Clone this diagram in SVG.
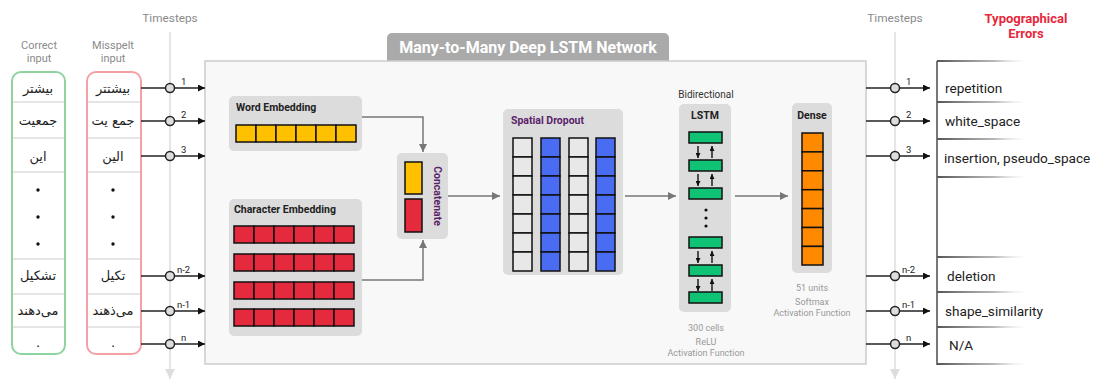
<svg xmlns="http://www.w3.org/2000/svg" width="1093" height="381" viewBox="0 0 1093 381">
<defs>
<style>
.lbl{font-family:Roboto,"Liberation Sans",sans-serif;}
.gray{fill:#8a8a8a;font-size:11px;}
.big{font-size:11.8px;}
.fa{font-family:"DejaVu Sans","Noto Sans",sans-serif;font-size:13px;fill:#222;text-anchor:middle;}
.dot{fill:#111;}
.ts{stroke:#222;stroke-width:1.6;fill:none;}
.tc{fill:#ddd;stroke:#222;stroke-width:1.5;}
.tn{font-family:Roboto,"Liberation Sans",sans-serif;font-size:9.5px;fill:#222;}
.panel{fill:#dcdcdc;}
.ttl{font-family:Roboto,"Liberation Sans",sans-serif;font-size:10.5px;font-weight:bold;fill:#222;}
.purple{fill:#5b1f6b;}
.cell{stroke:#111;stroke-width:1.5;}
.y{fill:#ffc000;}
.r{fill:#e62a3e;}
.b{fill:#4a6cf2;}
.lg{fill:#e8e8e8;}
.g{fill:#10c274;}
.o{fill:#ff8a00;}
.conn{stroke:#777;stroke-width:1.5;fill:none;}
.out{font-family:Roboto,"Liberation Sans",sans-serif;font-size:13.6px;fill:#222;}
.note{font-family:Roboto,"Liberation Sans",sans-serif;font-size:9px;fill:#999;text-anchor:middle;}
</style>
<marker id="ab" viewBox="0 0 10 10" refX="10" refY="5" markerWidth="10" markerHeight="7" markerUnits="userSpaceOnUse" orient="auto"><path d="M0,0 L10,5 L0,10 z" fill="#111"/></marker>
<marker id="ag" viewBox="0 0 10 10" refX="10" refY="5" markerWidth="10" markerHeight="8" markerUnits="userSpaceOnUse" orient="auto"><path d="M0,0 L10,5 L0,10 z" fill="#777"/></marker>
<marker id="al" viewBox="0 0 10 10" refX="10" refY="5" markerWidth="12" markerHeight="10" markerUnits="userSpaceOnUse" orient="auto"><path d="M0,0 L10,5 L0,10 z" fill="#ddd"/></marker>
<marker id="as" viewBox="0 0 10 10" refX="10" refY="5" markerWidth="5" markerHeight="5" markerUnits="userSpaceOnUse" orient="auto"><path d="M0,0 L10,5 L0,10 z" fill="#111"/></marker>
<linearGradient id="fade" gradientUnits="userSpaceOnUse" x1="937" y1="0" x2="1032" y2="0"><stop offset="0" stop-color="#555"/><stop offset="0.6" stop-color="#888" stop-opacity="0.6"/><stop offset="1" stop-color="#fff" stop-opacity="0"/></linearGradient>
</defs>
<rect width="1093" height="381" fill="#fff"/>

<!-- timestep axes -->
<g id="timesteps-left">
<text class="lbl gray big" x="170" y="22" text-anchor="middle">Timesteps</text>
<line x1="170" y1="32" x2="170" y2="379" stroke="#ddd" stroke-width="1.5" marker-end="url(#al)"/>
</g>
<g id="timesteps-right">
<text class="lbl gray big" x="895" y="22" text-anchor="middle">Timesteps</text>
<line x1="895" y1="32" x2="895" y2="379" stroke="#ddd" stroke-width="1.5" marker-end="url(#al)"/>
</g>

<!-- correct input -->
<g id="correct-input">
<text class="lbl gray" x="39" y="49" text-anchor="middle">Correct</text>
<text class="lbl gray" x="39" y="62" text-anchor="middle">input</text>
<rect x="12" y="72" width="53" height="282" rx="9" fill="#fff" stroke="#8fd3a0" stroke-width="2"/>
<g stroke="#ccc" stroke-width="1.2">
<line x1="13" y1="102" x2="64" y2="102"/><line x1="13" y1="138" x2="64" y2="138"/><line x1="13" y1="172" x2="64" y2="172"/>
<line x1="13" y1="259" x2="64" y2="259"/><line x1="13" y1="294" x2="64" y2="294"/><line x1="13" y1="327" x2="64" y2="327"/>
</g>
<text class="fa" x="38" y="93">بیشتر</text>
<text class="fa" x="38" y="125">جمعیت</text>
<text class="fa" x="38" y="161">این</text>
<circle class="dot" cx="38" cy="190" r="1.7"/><circle class="dot" cx="38" cy="217" r="1.7"/><circle class="dot" cx="38" cy="244" r="1.7"/>
<text class="fa" x="38" y="280">تشکیل</text>
<text class="fa" x="38" y="315">می‌دهند</text>
<text class="fa" x="38" y="347" font-size="10">.</text>
</g>

<!-- misspelt input -->
<g id="misspelt-input">
<text class="lbl gray" x="113" y="49" text-anchor="middle">Misspelt</text>
<text class="lbl gray" x="113" y="62" text-anchor="middle">input</text>
<rect x="87" y="72" width="54" height="282" rx="9" fill="#fff" stroke="#f4a0a4" stroke-width="2"/>
<g stroke="#ccc" stroke-width="1.2">
<line x1="88" y1="102" x2="140" y2="102"/><line x1="88" y1="138" x2="140" y2="138"/><line x1="88" y1="172" x2="140" y2="172"/>
<line x1="88" y1="259" x2="140" y2="259"/><line x1="88" y1="294" x2="140" y2="294"/><line x1="88" y1="327" x2="140" y2="327"/>
</g>
<text class="fa" x="113" y="93">بیشتتر</text>
<text class="fa" x="113" y="125">جمع یت</text>
<text class="fa" x="113" y="161">الین</text>
<circle class="dot" cx="113" cy="190" r="1.7"/><circle class="dot" cx="113" cy="217" r="1.7"/><circle class="dot" cx="113" cy="244" r="1.7"/>
<text class="fa" x="113" y="280">تکیل</text>
<text class="fa" x="113" y="315">می‌ذهند</text>
<text class="fa" x="113" y="347" font-size="10">.</text>
</g>

<!-- main network box -->
<g id="network">
<rect x="387" y="33" width="282" height="32" rx="5" fill="#aaa"/>
<rect x="205" y="61" width="661" height="303" fill="#f8f8f8" stroke="#ccc" stroke-width="1.5"/>
<text x="528" y="53" text-anchor="middle" font-family="Roboto,'Liberation Sans',sans-serif" font-size="16" font-weight="bold" fill="#fff">Many-to-Many Deep LSTM Network</text>
</g>

<!-- word embedding -->
<g id="word-embedding">
<rect class="panel" x="229" y="96" width="133" height="55" rx="5"/>
<text class="ttl" x="236" y="111">Word Embedding</text>
<rect class="cell y" x="236" y="125" width="20" height="17"/><rect class="cell y" x="256" y="125" width="20" height="17"/><rect class="cell y" x="276" y="125" width="20" height="17"/><rect class="cell y" x="296" y="125" width="20" height="17"/><rect class="cell y" x="316" y="125" width="20" height="17"/><rect class="cell y" x="336" y="125" width="20" height="17"/>
</g>

<!-- character embedding -->
<g id="character-embedding">
<rect class="panel" x="229" y="199" width="133" height="137" rx="5"/>
<text class="ttl" x="234" y="213">Character Embedding</text>
<g id="char-rows">
<rect class="cell r" x="234" y="226" width="20" height="17"/><rect class="cell r" x="254" y="226" width="20" height="17"/><rect class="cell r" x="274" y="226" width="20" height="17"/><rect class="cell r" x="294" y="226" width="20" height="17"/><rect class="cell r" x="314" y="226" width="20" height="17"/><rect class="cell r" x="334" y="226" width="20" height="17"/>
<rect class="cell r" x="234" y="254" width="20" height="17"/><rect class="cell r" x="254" y="254" width="20" height="17"/><rect class="cell r" x="274" y="254" width="20" height="17"/><rect class="cell r" x="294" y="254" width="20" height="17"/><rect class="cell r" x="314" y="254" width="20" height="17"/><rect class="cell r" x="334" y="254" width="20" height="17"/>
<rect class="cell r" x="234" y="282" width="20" height="17"/><rect class="cell r" x="254" y="282" width="20" height="17"/><rect class="cell r" x="274" y="282" width="20" height="17"/><rect class="cell r" x="294" y="282" width="20" height="17"/><rect class="cell r" x="314" y="282" width="20" height="17"/><rect class="cell r" x="334" y="282" width="20" height="17"/>
<rect class="cell r" x="234" y="309" width="20" height="17"/><rect class="cell r" x="254" y="309" width="20" height="17"/><rect class="cell r" x="274" y="309" width="20" height="17"/><rect class="cell r" x="294" y="309" width="20" height="17"/><rect class="cell r" x="314" y="309" width="20" height="17"/><rect class="cell r" x="334" y="309" width="20" height="17"/>
</g>
</g>

<!-- concatenate -->
<g id="concatenate">
<rect class="panel" x="397" y="153" width="51" height="86" rx="5"/>
<rect class="cell y" x="405" y="162" width="17" height="32"/>
<rect class="cell r" x="405" y="199" width="17" height="33"/>
<text class="ttl purple" transform="translate(434,196) rotate(90)" text-anchor="middle">Concatenate</text>
</g>

<!-- spatial dropout -->
<g id="spatial-dropout">
<rect class="panel" x="503" y="109" width="120" height="166" rx="5"/>
<text class="ttl purple" x="511" y="124">Spatial Dropout</text>
<g>
<rect class="cell lg" x="513" y="138" width="19" height="19"/><rect class="cell lg" x="513" y="157" width="19" height="19"/><rect class="cell lg" x="513" y="176" width="19" height="19"/><rect class="cell lg" x="513" y="195" width="19" height="19"/><rect class="cell lg" x="513" y="214" width="19" height="19"/><rect class="cell lg" x="513" y="233" width="19" height="19"/><rect class="cell lg" x="513" y="252" width="19" height="19"/>
<rect class="cell b" x="541" y="138" width="19" height="19"/><rect class="cell b" x="541" y="157" width="19" height="19"/><rect class="cell b" x="541" y="176" width="19" height="19"/><rect class="cell b" x="541" y="195" width="19" height="19"/><rect class="cell b" x="541" y="214" width="19" height="19"/><rect class="cell b" x="541" y="233" width="19" height="19"/><rect class="cell b" x="541" y="252" width="19" height="19"/>
<rect class="cell lg" x="569" y="138" width="19" height="19"/><rect class="cell lg" x="569" y="157" width="19" height="19"/><rect class="cell lg" x="569" y="176" width="19" height="19"/><rect class="cell lg" x="569" y="195" width="19" height="19"/><rect class="cell lg" x="569" y="214" width="19" height="19"/><rect class="cell lg" x="569" y="233" width="19" height="19"/><rect class="cell lg" x="569" y="252" width="19" height="19"/>
<rect class="cell b" x="596" y="138" width="19" height="19"/><rect class="cell b" x="596" y="157" width="19" height="19"/><rect class="cell b" x="596" y="176" width="19" height="19"/><rect class="cell b" x="596" y="195" width="19" height="19"/><rect class="cell b" x="596" y="214" width="19" height="19"/><rect class="cell b" x="596" y="233" width="19" height="19"/><rect class="cell b" x="596" y="252" width="19" height="19"/>
</g>
</g>

<!-- LSTM -->
<g id="lstm">
<text x="706" y="98" text-anchor="middle" font-family="Roboto,'Liberation Sans',sans-serif" font-size="10" fill="#333">Bidirectional</text>
<rect class="panel" x="679" y="104" width="52" height="208" rx="5"/>
<text class="ttl" x="705" y="119" text-anchor="middle" font-size="11">LSTM</text>
<rect class="cell g" x="689" y="132" width="33" height="11"/>
<rect class="cell g" x="689" y="160" width="33" height="11"/>
<rect class="cell g" x="689" y="188" width="33" height="11"/>
<rect class="cell g" x="689" y="237" width="33" height="11"/>
<rect class="cell g" x="689" y="265" width="33" height="11"/>
<rect class="cell g" x="689" y="292" width="33" height="11"/>
<g stroke="#111" stroke-width="1.4">
<line x1="698" y1="146" x2="698" y2="158" marker-end="url(#as)"/><line x1="712" y1="158" x2="712" y2="146" marker-end="url(#as)"/>
<line x1="698" y1="174" x2="698" y2="186" marker-end="url(#as)"/><line x1="712" y1="186" x2="712" y2="174" marker-end="url(#as)"/>
<line x1="698" y1="251" x2="698" y2="263" marker-end="url(#as)"/><line x1="712" y1="263" x2="712" y2="251" marker-end="url(#as)"/>
<line x1="698" y1="279" x2="698" y2="291" marker-end="url(#as)"/><line x1="712" y1="291" x2="712" y2="279" marker-end="url(#as)"/>
</g>
<circle class="dot" cx="706" cy="210" r="1.6"/><circle class="dot" cx="706" cy="218" r="1.6"/><circle class="dot" cx="706" cy="226" r="1.6"/>
<text class="note" x="706" y="331">300 cells</text>
<text class="note" x="706" y="345">ReLU</text>
<text class="note" x="706" y="356">Activation Function</text>
</g>

<!-- Dense -->
<g id="dense">
<rect class="panel" x="792" y="103" width="40" height="170" rx="5"/>
<text class="ttl" x="812" y="119" text-anchor="middle">Dense</text>
<rect class="cell o" x="802" y="133" width="21" height="18.9"/><rect class="cell o" x="802" y="151.9" width="21" height="18.9"/><rect class="cell o" x="802" y="170.8" width="21" height="18.9"/><rect class="cell o" x="802" y="189.7" width="21" height="18.9"/><rect class="cell o" x="802" y="208.6" width="21" height="18.9"/><rect class="cell o" x="802" y="227.5" width="21" height="18.9"/><rect class="cell o" x="802" y="246.4" width="21" height="18.6"/>
<text class="note" x="812" y="291">51 units</text>
<text class="note" x="812" y="305">Softmax</text>
<text class="note" x="812" y="316">Activation Function</text>
</g>

<!-- typographical errors -->
<g id="typographical-errors">
<text x="1026" y="23" text-anchor="middle" font-family="Roboto,'Liberation Sans',sans-serif" font-size="13" font-weight="bold" fill="#e8283c">Typographical</text>
<text x="1026" y="38" text-anchor="middle" font-family="Roboto,'Liberation Sans',sans-serif" font-size="13" font-weight="bold" fill="#e8283c">Errors</text>
<rect x="936" y="61" width="2" height="304" fill="#777"/>
<g fill="url(#fade)">
<rect x="937" y="60" width="95" height="2"/>
<rect x="937" y="101" width="95" height="2"/>
<rect x="937" y="138" width="95" height="2"/>
<rect x="937" y="176" width="95" height="2"/>
<rect x="937" y="256" width="95" height="2"/>
<rect x="937" y="291" width="95" height="2"/>
<rect x="937" y="326" width="95" height="2"/>
<rect x="937" y="363" width="95" height="2"/>
</g>
<text class="out" x="945" y="88" dominant-baseline="central">repetition</text>
<text class="out" x="945" y="121" dominant-baseline="central">white_space</text>
<text class="out" x="944" y="158" dominant-baseline="central">insertion, pseudo_space</text>
<text class="out" x="947" y="276" dominant-baseline="central">deletion</text>
<text class="out" x="945" y="311" dominant-baseline="central">shape_similarity</text>
<text class="out" x="949" y="345" dominant-baseline="central">N/A</text>
</g>

<!-- connectors -->
<g id="connectors">
<g class="ts">
<line x1="141" y1="88" x2="205" y2="88" marker-end="url(#ab)"/>
<line x1="141" y1="121" x2="205" y2="121" marker-end="url(#ab)"/>
<line x1="141" y1="156" x2="205" y2="156" marker-end="url(#ab)"/>
<line x1="141" y1="276" x2="205" y2="276" marker-end="url(#ab)"/>
<line x1="141" y1="311" x2="205" y2="311" marker-end="url(#ab)"/>
<line x1="141" y1="344" x2="205" y2="344" marker-end="url(#ab)"/>
<line x1="866" y1="88" x2="930" y2="88" marker-end="url(#ab)"/>
<line x1="866" y1="121" x2="930" y2="121" marker-end="url(#ab)"/>
<line x1="866" y1="156" x2="930" y2="156" marker-end="url(#ab)"/>
<line x1="866" y1="276" x2="930" y2="276" marker-end="url(#ab)"/>
<line x1="866" y1="311" x2="930" y2="311" marker-end="url(#ab)"/>
<line x1="866" y1="344" x2="930" y2="344" marker-end="url(#ab)"/>
</g>
<g>
<circle class="tc" cx="170" cy="88" r="4.5"/><circle class="tc" cx="170" cy="121" r="4.5"/><circle class="tc" cx="170" cy="156" r="4.5"/><circle class="tc" cx="170" cy="276" r="4.5"/><circle class="tc" cx="170" cy="311" r="4.5"/><circle class="tc" cx="170" cy="344" r="4.5"/>
<circle class="tc" cx="895" cy="88" r="4.5"/><circle class="tc" cx="895" cy="121" r="4.5"/><circle class="tc" cx="895" cy="156" r="4.5"/><circle class="tc" cx="895" cy="276" r="4.5"/><circle class="tc" cx="895" cy="311" r="4.5"/><circle class="tc" cx="895" cy="344" r="4.5"/>
</g>
<g class="tn">
<text x="181" y="85">1</text><text x="181" y="118">2</text><text x="181" y="153">3</text>
<text x="177" y="273">n-2</text><text x="177" y="308">n-1</text><text x="181" y="341">n</text>
<text x="906" y="85">1</text><text x="906" y="118">2</text><text x="906" y="153">3</text>
<text x="902" y="273">n-2</text><text x="902" y="308">n-1</text><text x="906" y="341">n</text>
</g>
<path class="conn" d="M362,117 H423 V152" marker-end="url(#ag)"/>
<path class="conn" d="M362,280 H423 V240" marker-end="url(#ag)"/>
<line class="conn" x1="448" y1="196" x2="500" y2="196" marker-end="url(#ag)"/>
<line class="conn" x1="625" y1="196" x2="676" y2="196" marker-end="url(#ag)"/>
<line class="conn" x1="735" y1="196" x2="788" y2="196" marker-end="url(#ag)"/>
</g>
</svg>
